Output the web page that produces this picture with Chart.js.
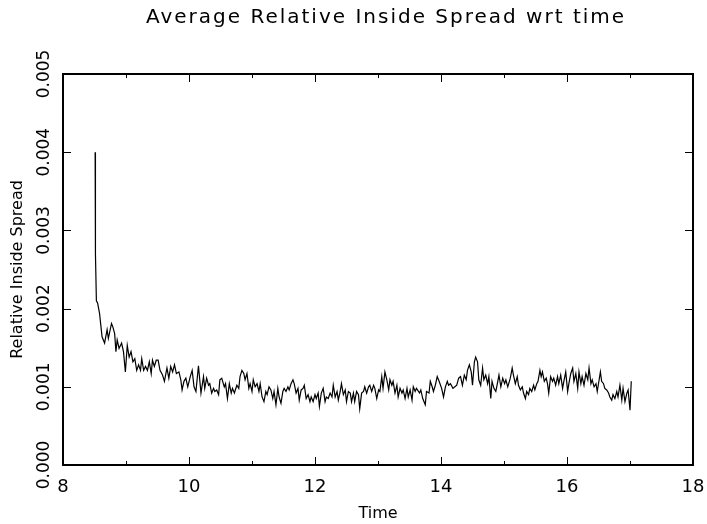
<!DOCTYPE html>
<html>
<head>
<meta charset="utf-8">
<script src="https://cdn.jsdelivr.net/npm/chart.js@4.4.1/dist/chart.umd.min.js"></script>
<style>
  html, body { margin: 0; padding: 0; background: #fff; }
  #wrap { width: 707px; height: 524px; }
</style>
</head>
<body>
<div id="wrap"><canvas id="spreadChart" width="707" height="524"></canvas></div>
<script>
// values
const times = [
  8.51, 8.515, 8.53, 8.55, 8.58, 8.62, 8.66, 8.70, 8.72, 8.77, 8.79, 8.82, 8.84, 8.86, 8.89, 8.93, 8.96, 8.99,
  9.02, 9.05, 9.08, 9.11, 9.14, 9.17, 9.20, 9.23, 9.25, 9.28, 9.31, 9.34, 9.37, 9.40, 9.42, 9.45, 9.48, 9.51,
  9.54, 9.58, 9.61, 9.65, 9.68, 9.71, 9.74, 9.77, 9.80, 9.84, 9.87, 9.89, 9.92, 9.95, 9.98,
  10.02, 10.05, 10.08, 10.11, 10.15, 10.19, 10.23, 10.25, 10.28, 10.31, 10.33, 10.36, 10.39, 10.41, 10.44, 10.47,
  10.49, 10.52, 10.56, 10.58, 10.61, 10.64, 10.67, 10.69, 10.72, 10.76, 10.79, 10.81, 10.84, 10.87, 10.89, 10.92,
  10.95, 10.97, 11.00, 11.02, 11.05, 11.08, 11.11, 11.13, 11.16, 11.19, 11.22, 11.24, 11.27, 11.30, 11.33, 11.35,
  11.38, 11.41, 11.43, 11.46, 11.49, 11.51, 11.54, 11.57, 11.59, 11.62, 11.65, 11.67, 11.70, 11.73, 11.75, 11.78,
  11.81, 11.83, 11.86, 11.89, 11.92, 11.94, 11.97, 12.00, 12.02, 12.05, 12.07, 12.10, 12.13, 12.16, 12.18, 12.21,
  12.24, 12.27, 12.29, 12.32, 12.35, 12.37, 12.40, 12.42, 12.45, 12.48, 12.50, 12.53, 12.56, 12.58, 12.61, 12.63,
  12.66, 12.69, 12.71, 12.74, 12.77, 12.79, 12.82, 12.85, 12.87, 12.90, 12.93, 12.95, 12.98, 13.01, 13.03, 13.06,
  13.08, 13.11, 13.14, 13.17, 13.19, 13.22, 13.24, 13.27, 13.30, 13.32, 13.35, 13.38, 13.40, 13.43, 13.46, 13.48,
  13.51, 13.54, 13.56, 13.59, 13.61, 13.66, 13.68, 13.71, 13.75, 13.77, 13.81, 13.83, 13.86, 13.88, 13.91, 13.94,
  13.97, 14.01, 14.04, 14.07, 14.10, 14.12, 14.15, 14.19, 14.22, 14.25, 14.28, 14.31, 14.34, 14.37, 14.40, 14.42,
  14.45, 14.48, 14.50, 14.53, 14.55, 14.58, 14.60, 14.63, 14.66, 14.68, 14.71, 14.74, 14.76, 14.79, 14.81, 14.84,
  14.87, 14.89, 14.92, 14.95, 14.98, 15.01, 15.03, 15.06, 15.10, 15.13, 15.15, 15.18, 15.21, 15.23, 15.26, 15.29,
  15.31, 15.34, 15.36, 15.39, 15.41, 15.44, 15.47, 15.49, 15.52, 15.54, 15.57, 15.59, 15.61, 15.64, 15.67, 15.69,
  15.71, 15.74, 15.77, 15.79, 15.82, 15.85, 15.87, 15.90, 15.93, 15.95, 15.98, 16.01, 16.03, 16.06, 16.09, 16.11,
  16.14, 16.17, 16.19, 16.22, 16.24, 16.27, 16.30, 16.33, 16.35, 16.38, 16.40, 16.43, 16.46, 16.48, 16.51, 16.53,
  16.55, 16.58, 16.60, 16.63, 16.66, 16.68, 16.71, 16.73, 16.76, 16.79, 16.81, 16.84, 16.87, 16.89, 16.92, 16.95,
  16.97, 17.00, 17.02
];
const spreads = [
  0.00400, 0.00270, 0.00210, 0.00207, 0.00194, 0.00164, 0.00156, 0.00173, 0.00162, 0.00181, 0.00177, 0.00168, 0.00145, 0.00160, 0.00149, 0.00156, 0.00145, 0.00119,
  0.00153, 0.00138, 0.00145, 0.00132, 0.00136, 0.00121, 0.00128, 0.00121, 0.00136, 0.00121, 0.00126, 0.00121, 0.00132, 0.00117, 0.00134, 0.00126, 0.00134, 0.00134,
  0.00121, 0.00115, 0.00107, 0.00124, 0.00111, 0.00126, 0.00119, 0.00128, 0.00117, 0.00119, 0.00109, 0.00096, 0.00107, 0.00111, 0.00100,
  0.00113, 0.00121, 0.00100, 0.00094, 0.00127, 0.00092, 0.00113, 0.00098, 0.00111, 0.00102, 0.00104, 0.00092, 0.00098, 0.00094, 0.00096, 0.00090,
  0.00109, 0.00111, 0.00100, 0.00104, 0.00085, 0.00104, 0.00092, 0.00098, 0.00092, 0.00102, 0.00098, 0.00113, 0.00121, 0.00117, 0.00109, 0.00117,
  0.00098, 0.00104, 0.00094, 0.00109, 0.00100, 0.00104, 0.00094, 0.00104, 0.00087, 0.00081, 0.00094, 0.00090, 0.00100, 0.00096, 0.00085, 0.00094,
  0.00077, 0.00098, 0.00087, 0.00079, 0.00094, 0.00098, 0.00094, 0.00100, 0.00096, 0.00104, 0.00109, 0.00104, 0.00092, 0.00098, 0.00083, 0.00096,
  0.00098, 0.00102, 0.00085, 0.00090, 0.00081, 0.00087, 0.00081, 0.00090, 0.00085, 0.00092, 0.00075, 0.00092, 0.00098, 0.00081, 0.00087, 0.00085,
  0.00092, 0.00087, 0.00102, 0.00087, 0.00094, 0.00083, 0.00094, 0.00104, 0.00090, 0.00096, 0.00081, 0.00094, 0.00092, 0.00081, 0.00092, 0.00081,
  0.00094, 0.00090, 0.00072, 0.00092, 0.00094, 0.00100, 0.00092, 0.00100, 0.00102, 0.00094, 0.00102, 0.00098, 0.00085, 0.00096, 0.00094, 0.00113,
  0.00098, 0.00119, 0.00109, 0.00096, 0.00109, 0.00102, 0.00107, 0.00092, 0.00102, 0.00087, 0.00098, 0.00092, 0.00096, 0.00085, 0.00098, 0.00087,
  0.00096, 0.00083, 0.00100, 0.00094, 0.00098, 0.00092, 0.00096, 0.00085, 0.00077, 0.00094, 0.00092, 0.00107, 0.00100, 0.00094, 0.00102, 0.00113,
  0.00107, 0.00098, 0.00087, 0.00100, 0.00107, 0.00102, 0.00104, 0.00098, 0.00100, 0.00102, 0.00111, 0.00113, 0.00102, 0.00115, 0.00109, 0.00121,
  0.00128, 0.00119, 0.00102, 0.00132, 0.00138, 0.00132, 0.00109, 0.00102, 0.00124, 0.00109, 0.00115, 0.00104, 0.00113, 0.00085, 0.00107, 0.00098,
  0.00094, 0.00102, 0.00115, 0.00100, 0.00111, 0.00104, 0.00109, 0.00100, 0.00111, 0.00124, 0.00115, 0.00104, 0.00113, 0.00102, 0.00096, 0.00100,
  0.00092, 0.00085, 0.00094, 0.00090, 0.00098, 0.00094, 0.00102, 0.00096, 0.00104, 0.00107, 0.00121, 0.00113, 0.00119, 0.00107, 0.00111, 0.00104,
  0.00092, 0.00113, 0.00107, 0.00111, 0.00102, 0.00113, 0.00104, 0.00115, 0.00098, 0.00107, 0.00119, 0.00094, 0.00104, 0.00117, 0.00124, 0.00107,
  0.00117, 0.00098, 0.00119, 0.00104, 0.00113, 0.00102, 0.00117, 0.00109, 0.00124, 0.00104, 0.00109, 0.00100, 0.00104, 0.00094, 0.00109, 0.00119,
  0.00107, 0.00104, 0.00098, 0.00096, 0.00092, 0.00087, 0.00083, 0.00090, 0.00085, 0.00094, 0.00087, 0.00102, 0.00083, 0.00098, 0.00081, 0.00092,
  0.00096, 0.00070, 0.00107
];
const yTickValues = [0, 0.001, 0.002, 0.003, 0.004, 0.005];
const chartTitle = 'Average Relative Inside Spread wrt time';

const FONT = "'DejaVu Sans', sans-serif";

// frame, inward ticks on all four sides, rotated y tick labels, spaced title
const framePlugin = {
  id: 'frame',
  afterDraw(chart) {
    const { ctx, chartArea: a, scales } = chart;
    const xs = scales.x, ys = scales.y;
    ctx.save();
    ctx.strokeStyle = '#000';
    ctx.lineWidth = 1;
    ctx.beginPath();
    for (let t = xs.min; t <= xs.max; t++) {
      const px = Math.round(xs.getPixelForValue(t)) + 0.5;
      const len = (t % 2 === 0) ? 8 : 4;
      ctx.moveTo(px, a.bottom); ctx.lineTo(px, a.bottom - len);
      ctx.moveTo(px, a.top); ctx.lineTo(px, a.top + len);
    }
    yTickValues.forEach(v => {
      const py = Math.round(ys.getPixelForValue(v)) + 0.5;
      ctx.moveTo(a.left, py); ctx.lineTo(a.left + 8, py);
      ctx.moveTo(a.right, py); ctx.lineTo(a.right - 8, py);
    });
    ctx.stroke();
    ctx.lineWidth = 2;
    ctx.strokeRect(a.left, a.top, a.right - a.left, a.bottom - a.top);

    ctx.fillStyle = '#000';
    ctx.textAlign = 'center';
    ctx.textBaseline = 'middle';
    ctx.font = '17px ' + FONT;
    yTickValues.forEach(v => {
      const py = ys.getPixelForValue(v);
      ctx.save();
      ctx.translate(45, py);
      ctx.rotate(-Math.PI / 2);
      ctx.fillText(v.toFixed(3), 0, 0);
      ctx.restore();
    });

    ctx.font = '20px ' + FONT;
    ctx.letterSpacing = '2px';
    ctx.fillText(chartTitle, 386, 18);
    ctx.restore();
  }
};

const ctx = document.getElementById('spreadChart').getContext('2d');
const chart = new Chart(ctx, {
  type: 'line',
  data: {
    datasets: [{
      data: times.map((t, i) => ({ x: t, y: spreads[i] })),
      borderColor: '#000',
      borderWidth: 1.2,
      pointRadius: 0,
      tension: 0,
      fill: false
    }]
  },
  options: {
    responsive: false,
    animation: false,
    devicePixelRatio: 1,
    layout: { padding: { left: 0, right: 14, top: 0, bottom: 0 } },
    plugins: {
      legend: { display: false },
      tooltip: { enabled: false },
      title: {
        // space is kept here, the text itself is drawn by framePlugin
        display: true,
        text: chartTitle,
        color: 'rgba(0,0,0,0)',
        font: { family: FONT, size: 20, weight: 'normal' },
        padding: { top: 6, bottom: 44 }
      }
    },
    scales: {
      x: {
        type: 'linear',
        min: 8,
        max: 18,
        grid: { display: false, drawTicks: false },
        border: { display: false },
        ticks: {
          stepSize: 2,
          color: '#000',
          padding: 12,
          maxRotation: 0,
          font: { family: FONT, size: 18 }
        },
        title: {
          display: true,
          text: 'Time',
          color: '#000',
          font: { family: FONT, size: 16 },
          padding: { top: 3, bottom: 1 }
        },
        afterFit: s => {
          s.height = 59;
          s.paddingLeft = 0;
          s.paddingRight = 0;
        }
      },
      y: {
        type: 'linear',
        min: 0,
        max: 0.005,
        grid: { display: false, drawTicks: false },
        border: { display: false },
        ticks: { display: false, stepSize: 0.001 },
        title: {
          display: true,
          text: 'Relative Inside Spread',
          color: '#000',
          font: { family: FONT, size: 16 },
          padding: { top: 8, bottom: 0 }
        },
        afterFit: s => { s.width = 63; }
      }
    }
  },
  plugins: [framePlugin]
});
</script>
</body>
</html>
